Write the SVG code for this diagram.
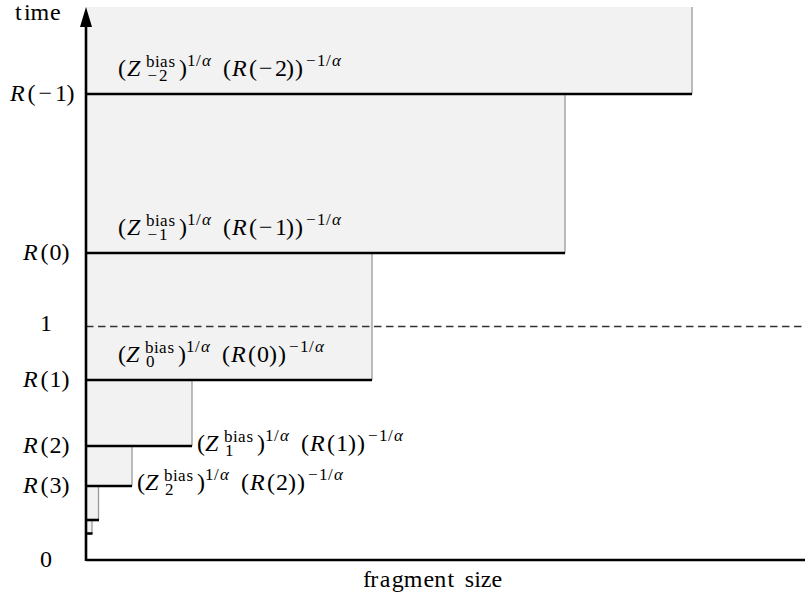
<svg xmlns="http://www.w3.org/2000/svg" width="805" height="598" viewBox="0 0 805 598">
<defs>
<marker id="arr" viewBox="0 0 20 12" refX="0" refY="6" markerWidth="20" markerHeight="12" markerUnits="userSpaceOnUse" orient="auto">
<path d="M0 0 L20 6 L0 12 Z" fill="#000"/>
</marker>
</defs>

<g id="boxes">
<g id="box7"><rect fill="#f2f2f2" x="86" y="520" width="6" height="14"/><line stroke="#999" stroke-width="1.3" x1="92" y1="521" x2="92" y2="534"/><line stroke="#000" stroke-width="2.6" x1="86" y1="533.5" x2="92.5" y2="533.5"/></g>
<g id="box6"><rect fill="#f2f2f2" x="86" y="486" width="13" height="34"/><line stroke="#999" stroke-width="1.3" x1="98.5" y1="487" x2="98.5" y2="520"/><line stroke="#000" stroke-width="2.6" x1="86" y1="520" x2="99" y2="520"/></g>
<g id="box5"><rect fill="#f2f2f2" x="86" y="446" width="46" height="40"/><line stroke="#999" stroke-width="1.3" x1="132" y1="447" x2="132" y2="486"/><line stroke="#000" stroke-width="2.6" x1="86" y1="486" x2="132" y2="486"/></g>
<g id="box4"><rect fill="#f2f2f2" x="86" y="380" width="106" height="66"/><line stroke="#999" stroke-width="1.3" x1="192" y1="381" x2="192" y2="446"/><line stroke="#000" stroke-width="2.6" x1="86" y1="446" x2="192" y2="446"/></g>
<g id="box3"><rect fill="#f2f2f2" x="86" y="253" width="286" height="127"/><line stroke="#999" stroke-width="1.3" x1="372" y1="254" x2="372" y2="380"/><line stroke="#000" stroke-width="2.6" x1="86" y1="380" x2="372" y2="380"/></g>
<g id="box2"><rect fill="#f2f2f2" x="86" y="94" width="479" height="159"/><line stroke="#999" stroke-width="1.3" x1="565" y1="95" x2="565" y2="253"/><line stroke="#000" stroke-width="2.6" x1="86" y1="253" x2="565" y2="253"/></g>
<g id="box1"><rect fill="#f2f2f2" x="86" y="7" width="606" height="87"/><line stroke="#999" stroke-width="1.3" x1="692" y1="7" x2="692" y2="94"/><line stroke="#000" stroke-width="2.6" x1="86" y1="94" x2="692" y2="94"/></g>
</g>

<g id="connectors" fill="none">
<line stroke="#333" stroke-width="1.3" stroke-dasharray="7.5 4.5" x1="86" y1="326.5" x2="805" y2="326.5"/>
<line stroke="#000" stroke-width="2.6" x1="86" y1="560" x2="805" y2="560"/>
<line stroke="#000" stroke-width="2.6" x1="86" y1="561" x2="86" y2="27" marker-end="url(#arr)"/>
</g>

<g id="axis-labels" fill="#000">
<text style="font-family:'Liberation Serif',serif !important" font-size="24" x="15 24 30.5 50" y="20">time</text>
<text style="font-family:'Liberation Serif',serif !important" font-size="24" font-style="italic" x="10" y="101">R</text><text style="font-family:'Liberation Serif',serif !important" font-size="24" x="27.5 38.5 55 66.5" y="101">(−1)</text>
<text style="font-family:'Liberation Serif',serif !important" font-size="24" font-style="italic" x="23" y="260">R</text><text style="font-family:'Liberation Serif',serif !important" font-size="24" x="40.5 49.5 61.5" y="260">(0)</text>
<text style="font-family:'Liberation Serif',serif !important" font-size="24" x="40" y="331">1</text>
<text style="font-family:'Liberation Serif',serif !important" font-size="24" font-style="italic" x="23" y="387">R</text><text style="font-family:'Liberation Serif',serif !important" font-size="24" x="40.5 49.5 61.5" y="387">(1)</text>
<text style="font-family:'Liberation Serif',serif !important" font-size="24" font-style="italic" x="23" y="453">R</text><text style="font-family:'Liberation Serif',serif !important" font-size="24" x="40.5 49.5 61.5" y="453">(2)</text>
<text style="font-family:'Liberation Serif',serif !important" font-size="24" font-style="italic" x="23" y="493">R</text><text style="font-family:'Liberation Serif',serif !important" font-size="24" x="40.5 49.5 61.5" y="493">(3)</text>
<text style="font-family:'Liberation Serif',serif !important" font-size="24" x="40" y="567">0</text>
<text style="font-family:'Liberation Serif',serif !important" font-size="24" x="363 370.3 379.7 391.7 403.7 423.6 434.2 447.5 456.8 464.8 474.2 480.8 491.4" y="587">fragment size</text>
</g>

<g id="label1" transform="translate(118,76)" fill="#000">
<text style="font-family:'Liberation Serif',serif !important" font-size="24" x="0" y="0">(</text>
<text style="font-family:'Liberation Serif',serif !important" font-size="24" font-style="italic" x="9" y="0">Z</text>
<text style="font-family:'Liberation Serif',serif !important" font-size="17" x="28 37 42 50.5" y="-9">bias</text>
<text style="font-family:'Liberation Serif',serif !important" font-size="17" x="29.5 41" y="5">−2</text>
<text style="font-family:'Liberation Serif',serif !important" font-size="24" x="61" y="0">)</text>
<text style="font-family:'Liberation Serif',serif !important" font-size="17" x="69 78" y="-10">1/</text><text style="font-family:'Liberation Serif',serif !important" font-size="17" font-style="italic" x="84" y="-10">α</text>
<text style="font-family:'Liberation Serif',serif !important" font-size="24" x="105" y="0">(</text><text style="font-family:'Liberation Serif',serif !important" font-size="24" font-style="italic" x="114" y="0">R</text><text style="font-family:'Liberation Serif',serif !important" font-size="24" x="131 141 157 168 177" y="0">(−2))</text>
<text style="font-family:'Liberation Serif',serif !important" font-size="17" x="188 199 208" y="-10">−1/</text><text style="font-family:'Liberation Serif',serif !important" font-size="17" font-style="italic" x="214" y="-10">α</text>
</g>
<g id="label2" transform="translate(118,235)" fill="#000">
<text style="font-family:'Liberation Serif',serif !important" font-size="24" x="0" y="0">(</text>
<text style="font-family:'Liberation Serif',serif !important" font-size="24" font-style="italic" x="9" y="0">Z</text>
<text style="font-family:'Liberation Serif',serif !important" font-size="17" x="28 37 42 50.5" y="-9">bias</text>
<text style="font-family:'Liberation Serif',serif !important" font-size="17" x="29.5 41" y="5">−1</text>
<text style="font-family:'Liberation Serif',serif !important" font-size="24" x="61" y="0">)</text>
<text style="font-family:'Liberation Serif',serif !important" font-size="17" x="69 78" y="-10">1/</text><text style="font-family:'Liberation Serif',serif !important" font-size="17" font-style="italic" x="84" y="-10">α</text>
<text style="font-family:'Liberation Serif',serif !important" font-size="24" x="105" y="0">(</text><text style="font-family:'Liberation Serif',serif !important" font-size="24" font-style="italic" x="114" y="0">R</text><text style="font-family:'Liberation Serif',serif !important" font-size="24" x="131 141 157 168 177" y="0">(−1))</text>
<text style="font-family:'Liberation Serif',serif !important" font-size="17" x="188 199 208" y="-10">−1/</text><text style="font-family:'Liberation Serif',serif !important" font-size="17" font-style="italic" x="214" y="-10">α</text>
</g>
<g id="label3" transform="translate(118,362)" fill="#000">
<text style="font-family:'Liberation Serif',serif !important" font-size="24" x="0" y="0">(</text>
<text style="font-family:'Liberation Serif',serif !important" font-size="24" font-style="italic" x="8" y="0">Z</text>
<text style="font-family:'Liberation Serif',serif !important" font-size="17" x="27 36 41 49.5" y="-9">bias</text>
<text style="font-family:'Liberation Serif',serif !important" font-size="17" x="28" y="5">0</text>
<text style="font-family:'Liberation Serif',serif !important" font-size="24" x="60" y="0">)</text>
<text style="font-family:'Liberation Serif',serif !important" font-size="17" x="68 77" y="-10">1/</text><text style="font-family:'Liberation Serif',serif !important" font-size="17" font-style="italic" x="83" y="-10">α</text>
<text style="font-family:'Liberation Serif',serif !important" font-size="24" x="104" y="0">(</text><text style="font-family:'Liberation Serif',serif !important" font-size="24" font-style="italic" x="113" y="0">R</text><text style="font-family:'Liberation Serif',serif !important" font-size="24" x="130 139 151 160" y="0">(0))</text>
<text style="font-family:'Liberation Serif',serif !important" font-size="17" x="171 182 191" y="-10">−1/</text><text style="font-family:'Liberation Serif',serif !important" font-size="17" font-style="italic" x="197" y="-10">α</text>
</g>
<g id="label4" transform="translate(197,451)" fill="#000">
<text style="font-family:'Liberation Serif',serif !important" font-size="24" x="0" y="0">(</text>
<text style="font-family:'Liberation Serif',serif !important" font-size="24" font-style="italic" x="8" y="0">Z</text>
<text style="font-family:'Liberation Serif',serif !important" font-size="17" x="27 36 41 49.5" y="-9">bias</text>
<text style="font-family:'Liberation Serif',serif !important" font-size="17" x="28" y="5">1</text>
<text style="font-family:'Liberation Serif',serif !important" font-size="24" x="60" y="0">)</text>
<text style="font-family:'Liberation Serif',serif !important" font-size="17" x="68 77" y="-10">1/</text><text style="font-family:'Liberation Serif',serif !important" font-size="17" font-style="italic" x="83" y="-10">α</text>
<text style="font-family:'Liberation Serif',serif !important" font-size="24" x="104" y="0">(</text><text style="font-family:'Liberation Serif',serif !important" font-size="24" font-style="italic" x="113" y="0">R</text><text style="font-family:'Liberation Serif',serif !important" font-size="24" x="130 139 151 160" y="0">(1))</text>
<text style="font-family:'Liberation Serif',serif !important" font-size="17" x="171 182 191" y="-10">−1/</text><text style="font-family:'Liberation Serif',serif !important" font-size="17" font-style="italic" x="197" y="-10">α</text>
</g>
<g id="label5" transform="translate(137,490)" fill="#000">
<text style="font-family:'Liberation Serif',serif !important" font-size="24" x="0" y="0">(</text>
<text style="font-family:'Liberation Serif',serif !important" font-size="24" font-style="italic" x="8" y="0">Z</text>
<text style="font-family:'Liberation Serif',serif !important" font-size="17" x="27 36 41 49.5" y="-9">bias</text>
<text style="font-family:'Liberation Serif',serif !important" font-size="17" x="28" y="5">2</text>
<text style="font-family:'Liberation Serif',serif !important" font-size="24" x="60" y="0">)</text>
<text style="font-family:'Liberation Serif',serif !important" font-size="17" x="68 77" y="-10">1/</text><text style="font-family:'Liberation Serif',serif !important" font-size="17" font-style="italic" x="83" y="-10">α</text>
<text style="font-family:'Liberation Serif',serif !important" font-size="24" x="104" y="0">(</text><text style="font-family:'Liberation Serif',serif !important" font-size="24" font-style="italic" x="113" y="0">R</text><text style="font-family:'Liberation Serif',serif !important" font-size="24" x="130 139 151 160" y="0">(2))</text>
<text style="font-family:'Liberation Serif',serif !important" font-size="17" x="171 182 191" y="-10">−1/</text><text style="font-family:'Liberation Serif',serif !important" font-size="17" font-style="italic" x="197" y="-10">α</text>
</g>
</svg>
